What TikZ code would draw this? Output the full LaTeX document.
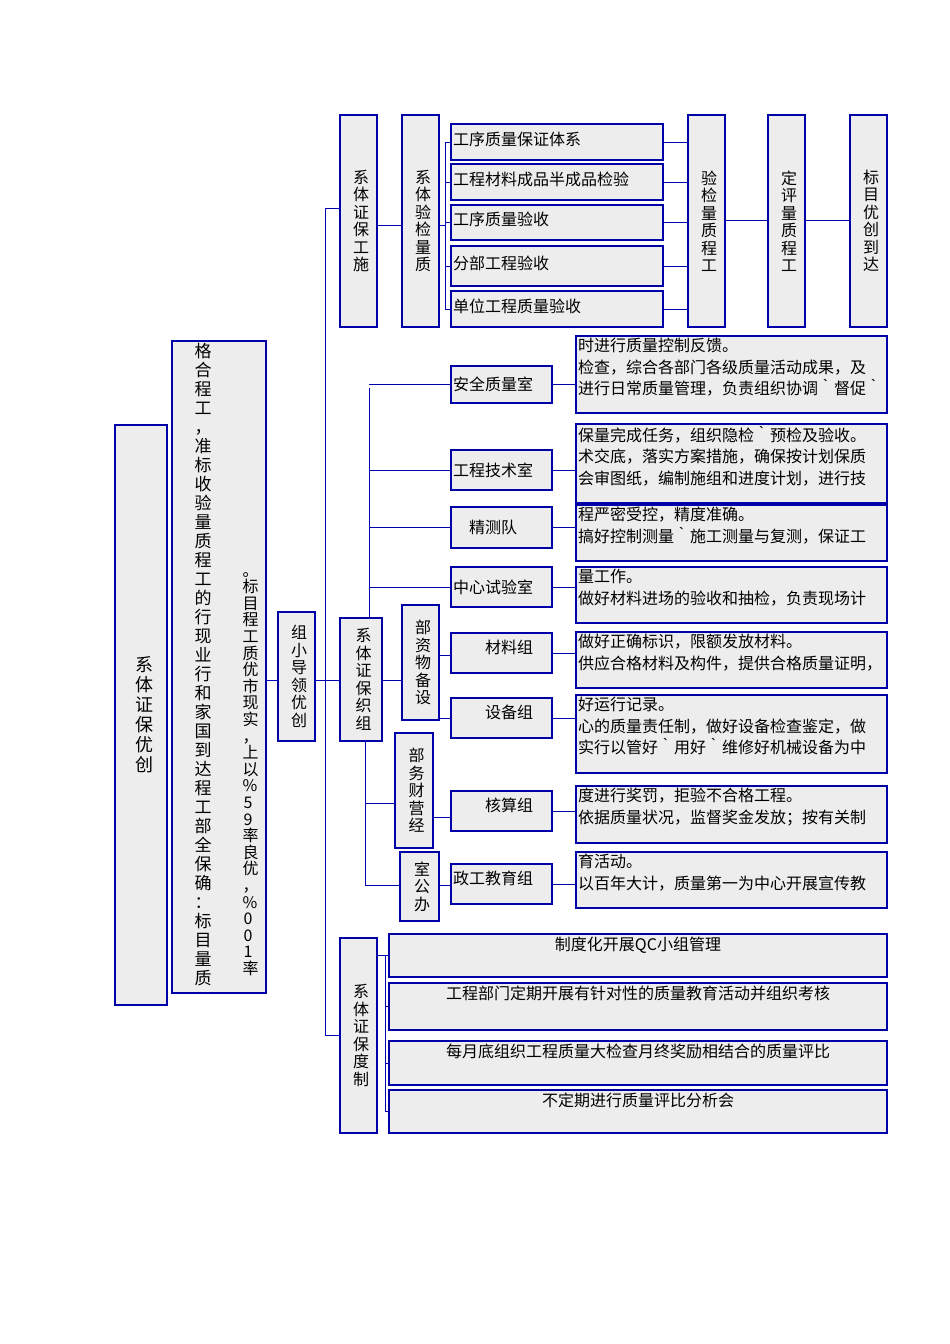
\documentclass[tikz,border=0pt]{standalone}
\usepackage{fontspec}
\setmainfont{Noto Sans CJK SC}
\XeTeXlinebreaklocale "zh"
\XeTeXlinebreakskip=0pt plus 1pt
\begin{document}
\begin{tikzpicture}[x=1pt,y=-1pt,
 bx/.style={draw=blue!65!black,line width=1.2pt,fill=gray!14},
 ln/.style={draw=blue!70!black,line width=1pt},
 vt/.style={text width=1.1em,align=center,inner sep=0pt,font=\fontsize{16}{17.5}\selectfont},
 tx/.style={inner sep=2pt,font=\fontsize{16}{21.5}\selectfont,align=left}]
\useasboundingbox (0,0) rectangle (950,1344);
\newcommand{\bxn}[5]{\path[bx] (#1,#2) rectangle (#3,#4); \coordinate (#5) at ({(#1+#3)/2},{(#2+#4)/2});}
% left
\bxn{115}{425}{167}{1005}{cy}
\node[vt,font=\fontsize{18}{20}\selectfont] (cyt) at (cy) {系体证保优创};
\bxn{172}{341}{266}{993}{mb}
\node[vt,anchor=north,align=center,font=\fontsize{17}{19}\selectfont] (m1) at (200,343) {格\\合\\程\\工\\，\\准\\标\\收\\验\\量\\质\\程\\工\\的\\行\\现\\业\\行\\和\\家\\国\\到\\达\\程\\工\\部\\全\\保\\确\\：\\标\\目\\量\\质};
\node[vt,anchor=north,align=center,font=\fontsize{16}{16.6}\selectfont] (m2) at (248,572) {。\\标\\目\\程\\工\\质\\优\\市\\现\\实\\，\\上\\以\\\%\\5\\9\\率\\良\\优\\，\\\%\\0\\0\\1\\率};
\bxn{278}{612}{315}{741}{ld}
\node[vt] (ldt) at (ld) {组小导领优创};
\draw[ln] (266,680) -- (278,680);
\draw[ln] (315,680) -- (340,680);
\draw[ln] (325,208) -- (325,1035);
% 施工
\bxn{340}{115}{377}{327}{sg}
\node[vt] (sgt) at (sg) {系体证保工施};
\draw[ln] (325,208) -- (340,208);
\bxn{402}{115}{439}{327}{zj}
\node[vt] (zjt) at (zj) {系体验检量质};
\draw[ln] (377,225) -- (402,225);
\draw[ln] (445,142) -- (445,309);
\draw[ln] (439,225) -- (445,225);
\foreach \a/\b/\t in {124/160/工序质量保证体系,164/200/工程材料成品半成品检验,205/240/工序质量验收,246/286/分部工程验收,291/327/单位工程质量验收}{
 \path[bx] (451,\a) rectangle (663,\b);
 \node[tx,anchor=west] at (451,{(\a+\b)/2-3}) {\t};
 \draw[ln] (445,{(\a+\b)/2}) -- (451,{(\a+\b)/2});
 \draw[ln] (663,{(\a+\b)/2}) -- (688,{(\a+\b)/2});}
\bxn{688}{115}{725}{327}{gj}
\node[vt] (gjt) at (gj) {验检量质程工};
\bxn{768}{115}{805}{327}{pd}
\node[vt] (pdt) at (pd) {定评量质程工};
\bxn{850}{115}{887}{327}{db}
\node[vt] (dbt) at (db) {标目优创到达};
\draw[ln] (725,220) -- (768,220);
\draw[ln] (805,220) -- (850,220);
% 组织
\bxn{340}{618}{382}{741}{zz}
\node[vt] (zzt) at (zz) {系体证保织组};
\draw[ln] (369,388) -- (369,618);
\foreach \a/\b/\t/\da/\db/\dt in {
366/403/安全质量室/336/413/{时进行质量控制反馈。\\检查，综合各部门各级质量活动成果，及\\进行日常质量管理，负责组织协调｀督促｀},
450/490/工程技术室/424/503/{保量完成任务，组织隐检｀预检及验收。\\术交底，落实方案措施，确保按计划保质\\会审图纸，编制施组和进度计划，进行技},
507/548/\quad 精测队/505/561/{程严密受控，精度准确。\\搞好控制测量｀施工测量与复测，保证工},
567/607/中心试验室/567/623/{量工作。\\做好材料进场的验收和抽检，负责现场计}}{
 \path[bx] (451,\a) rectangle (552,\b);
 \node[tx,anchor=west] at (451,{(\a+\b)/2}) {\t};
 \draw[ln] (369,{(\a+\b)/2}) -- (451,{(\a+\b)/2});
 \draw[ln] (552,{(\a+\b)/2}) -- (576,{(\a+\b)/2});
 \path[bx] (576,\da) rectangle (887,\db);
 \node[tx,anchor=north west] at (576,\da) {\dt};}
\bxn{402}{605}{439}{720}{wz}
\node[vt] (wzt) at (wz) {部资物备设};
\draw[ln] (382,680) -- (402,680);
\bxn{395}{733}{433}{848}{jy}
\node[vt] (jyt) at (jy) {部务财营经};
\bxn{400}{852}{439}{921}{bg}
\node[vt] (bgt) at (bg) {室公办};
\draw[ln] (365,741) -- (365,885) -- (400,885);
\draw[ln] (365,803) -- (395,803);
\draw[ln] (439,655) -- (451,655);
\draw[ln] (439,718) -- (451,718);
\draw[ln] (433,817) -- (451,817);
\draw[ln] (439,885) -- (451,885);
\foreach \a/\b/\t/\da/\db/\dt in {
633/673/\qquad 材料组/632/688/{做好正确标识，限额发放材料。\\供应合格材料及构件，提供合格质量证明，},
698/738/\qquad 设备组/695/773/{好运行记录。\\心的质量责任制，做好设备检查鉴定，做\\实行以管好｀用好｀维修好机械设备为中},
791/831/\qquad 核算组/786/843/{度进行奖罚，拒验不合格工程。\\依据质量状况，监督奖金发放；按有关制},
864/904/政工教育组/852/908/{育活动。\\以百年大计，质量第一为中心开展宣传教}}{
 \path[bx] (451,\a) rectangle (552,\b);
 \node[tx,anchor=west] at (451,{(\a+\b)/2-6}) {\t};
 \draw[ln] (552,{(\a+\b)/2}) -- (576,{(\a+\b)/2});
 \path[bx] (576,\da) rectangle (887,\db);
 \node[tx,anchor=north west] at (576,\da) {\dt};}
% 制度
\bxn{340}{938}{377}{1133}{zd}
\node[vt] (zdt) at (zd) {系体证保度制};
\draw[ln] (325,1035) -- (340,1035);
\draw[ln] (377,955) -- (385,955);
\draw[ln] (385,955) -- (385,1111);
\foreach \a/\b/\t in {934/977/制度化开展QC小组管理,983/1030/工程部门定期开展有针对性的质量教育活动并组织考核,1041/1085/每月底组织工程质量大检查月终奖励相结合的质量评比,1090/1133/不定期进行质量评比分析会}{
 \path[bx] (389,\a) rectangle (887,\b);
 \node[tx,anchor=north] at (638,\a+1) {\t};
 \draw[ln] (385,{(\a+\b)/2}) -- (389,{(\a+\b)/2});}
\end{tikzpicture}
\end{document}
